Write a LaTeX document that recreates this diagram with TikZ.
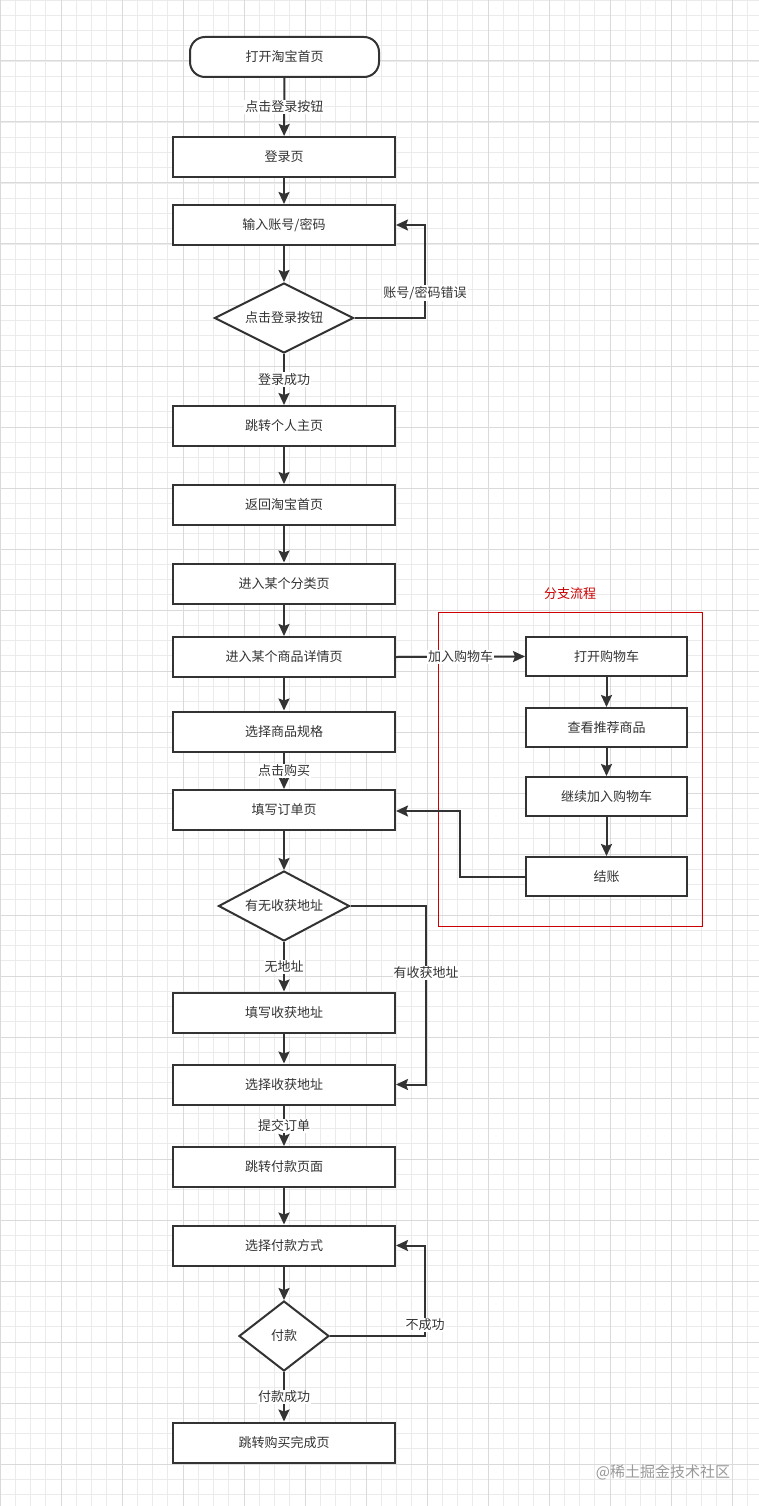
\documentclass[tikz,border=0pt]{standalone}
\usepackage{fontspec}
\setmainfont{Noto Sans CJK SC}
\usetikzlibrary{shapes.geometric,arrows.meta}
\definecolor{ln}{HTML}{333333}
\definecolor{gmin}{HTML}{EBEBEB}
\definecolor{gmaj}{HTML}{DADADA}
\definecolor{redc}{HTML}{CC0000}
\tikzset{
  stepbox/.style={draw=ln, line width=2pt, fill=white, minimum width=222pt, minimum height=40pt, inner sep=0pt, font=\fontsize{13}{15}\selectfont, text=ln},
  sidebox/.style={stepbox, minimum width=161pt, minimum height=39pt},
  startbox/.style={draw=ln, line width=2pt, fill=white, rounded corners=15pt, minimum width=189pt, minimum height=40pt, inner sep=0pt, font=\fontsize{13}{15}\selectfont, text=ln},
  decide/.style={draw=ln, line width=2pt, fill=white, diamond, inner sep=0pt, font=\fontsize{13}{15}\selectfont, text=ln},
  arr/.style={draw=ln, line width=2pt, -{Stealth[length=12pt,width=11pt,inset=2pt]}},
  lbl/.style={fill=white, inner sep=1pt, font=\fontsize{13}{15}\selectfont, text=ln},
}
\begin{document}
\begin{tikzpicture}[x=1pt,y=-1pt]
\useasboundingbox (0,0) rectangle (759,1506);
\fill[white] (0,0) rectangle (759,1506);
% grid
\foreach \i in {0,...,50} {\draw[gmin, line width=0.8pt] ({\i*15.25},0) -- ({\i*15.25},1506);}
\foreach \i in {0,...,99} {\draw[gmin, line width=0.8pt] (0,{\i*15.25}) -- (759,{\i*15.25});}
\foreach \i in {0,...,12} {\draw[gmaj, line width=1pt] ({\i*61},0) -- ({\i*61},1506);}
\foreach \i in {0,...,24} {\draw[gmaj, line width=1pt] (0,{\i*61}) -- (759,{\i*61});}

% main column
\node[startbox] (start) at (284.5,57) {打开淘宝首页};
\node[stepbox] (login) at (284,157) {登录页};
\node[stepbox] (input) at (284,225) {输入账号/密码};
\node[decide, aspect=2, minimum width=139pt, minimum height=70pt] (d1) at (284,318) {点击登录按钮};
\node[stepbox] (home) at (284,426) {跳转个人主页};
\node[stepbox] (back) at (284,505) {返回淘宝首页};
\node[stepbox] (cat) at (284,583.5) {进入某个分类页};
\node[stepbox] (detail) at (284,657) {进入某个商品详情页};
\node[stepbox] (spec) at (284,731.5) {选择商品规格};
\node[stepbox] (order) at (284,810) {填写订单页};
\node[decide, aspect=1.87, minimum width=131pt, minimum height=70pt] (d2) at (284,906) {有无收获地址};
\node[stepbox] (fill) at (284,1012.5) {填写收获地址};
\node[stepbox] (sel) at (284,1084.5) {选择收获地址};
\node[stepbox] (pay) at (284,1167) {跳转付款页面};
\node[stepbox] (method) at (284,1245.5) {选择付款方式};
\node[decide, aspect=1.29, minimum width=90pt, minimum height=70pt] (d3) at (284,1336) {付款};
\node[stepbox] (done) at (284,1442.5) {跳转购买完成页};

% branch
\draw[redc, line width=1pt] (438,612) rectangle (702,926);
\node[text=redc, font=\fontsize{13}{15}\selectfont] (branchlbl) at (570,594) {分支流程};
\node[sidebox] (cart) at (606.5,656.5) {打开购物车};
\node[sidebox] (rec) at (606.5,727.5) {查看推荐商品};
\node[sidebox] (cont) at (606.5,796.5) {继续加入购物车};
\node[sidebox] (checkout) at (606.5,876.5) {结账};

% vertical connectors
\draw[arr] (start) -- node[lbl] {点击登录按钮} (login);
\draw[arr] (login) -- (input);
\draw[arr] (input) -- (d1);
\draw[arr] (d1) -- node[lbl] {登录成功} (home);
\draw[arr] (home) -- (back);
\draw[arr] (back) -- (cat);
\draw[arr] (cat) -- (detail);
\draw[arr] (detail) -- (spec);
\draw[arr] (spec) -- node[lbl] {点击购买} (order);
\draw[arr] (order) -- (d2);
\draw[arr] (d2) -- node[lbl] {无地址} (fill);
\draw[arr] (fill) -- (sel);
\draw[arr] (sel) -- node[lbl] {提交订单} (pay);
\draw[arr] (pay) -- (method);
\draw[arr] (method) -- (d3);
\draw[arr] (d3) -- node[lbl] {付款成功} (done);

% loops
\coordinate (c1) at (425,318);
\draw[arr] (d1.east) -- (c1) |- (input.east);
\node[lbl] (l1) at (425,293) {账号/密码错误};
\coordinate (c2) at (426,906);
\draw[arr] (d2.east) -- (c2) |- (sel.east);
\node[lbl] (l2) at (426,973) {有收获地址};
\coordinate (c3) at (425,1336);
\draw[arr] (d3.east) -- (c3) |- (method.east);
\node[lbl] (l3) at (425,1325) {不成功};

% branch connectors
\draw[arr] (detail.east) -- node[lbl] {加入购物车} (cart.west);
\draw[arr] (cart) -- (rec);
\draw[arr] (rec) -- (cont);
\draw[arr] (cont) -- (checkout);
\coordinate (c4) at (460,876.5);
\draw[arr] (checkout.west) -- (c4) |- ([yshift=-1pt]order.east);

% watermark
\node[text=black!40, font=\fontsize{15}{17}\selectfont] (wm) at (663,1472) {@稀土掘金技术社区};
\end{tikzpicture}
\end{document}
